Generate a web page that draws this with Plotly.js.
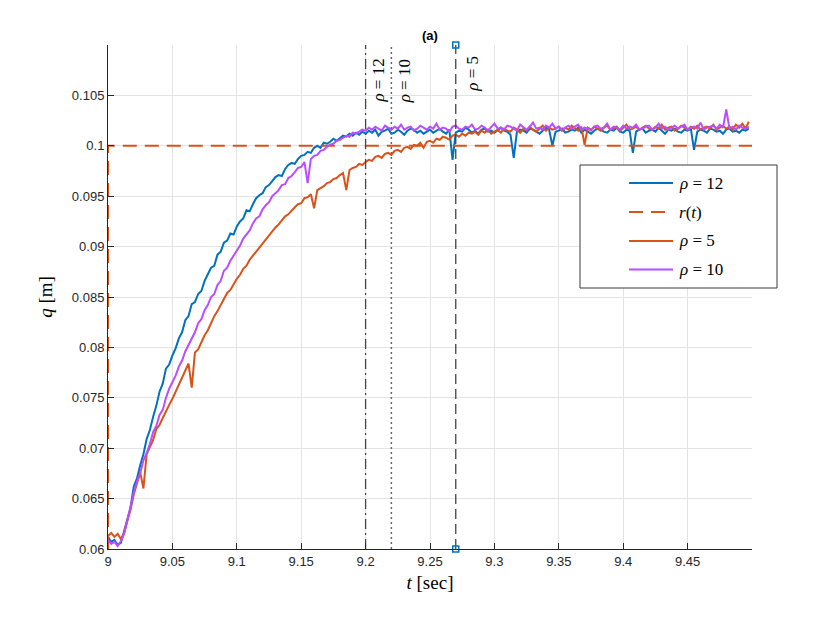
<!DOCTYPE html>
<html>
<head>
<meta charset="utf-8">
<script src="https://cdn.plot.ly/plotly-3.0.1.min.js"></script>
<style>html,body{margin:0;padding:0;background:#fff;}#chart{width:830px;height:623px;}</style>
</head>
<body>
<div id="chart"></div>
<script>
// sampling of the measured responses
const t0 = 9.0;
const dt = 0.0025;

// q [mm] for rho = 12
const qRho12mm = [
61.2,60.7,60.9,60.4,60.6,61.7,62.9,64.1,66.2,67.0,
68.3,69.4,70.9,71.8,73.1,74.2,75.6,76.4,77.9,78.3,
79.2,79.9,80.9,81.5,82.7,83.1,84.3,84.5,85.3,85.6,
86.6,87.2,87.9,88.1,89.2,89.5,90.4,90.6,91.3,91.2,
92.0,92.5,92.8,93.6,93.5,94.2,94.8,95.1,95.3,95.9,
96.1,96.5,96.9,97.1,97.0,97.7,98.1,98.3,98.2,98.7,
99.0,99.1,99.4,99.3,99.8,100.0,99.8,100.3,100.2,100.4,
100.7,100.5,100.8,101.0,100.9,101.2,101.0,101.3,101.1,101.4,
101.2,101.5,101.3,101.6,101.0,101.4,101.5,101.7,101.2,101.3,
101.6,101.4,101.1,101.5,101.7,101.6,101.3,101.5,101.2,101.4,
101.6,101.3,101.5,101.7,101.4,101.2,101.6,98.6,101.3,101.5,
101.4,101.8,101.6,101.3,101.5,101.2,101.6,101.7,101.4,101.5,
101.3,101.6,101.8,101.5,101.4,101.1,98.8,101.4,101.6,101.5,
101.3,101.7,101.6,101.4,101.2,101.5,101.8,101.6,100.0,101.4,
101.5,101.7,101.3,101.4,101.6,101.5,101.8,101.3,101.6,101.4,
101.2,101.5,101.7,101.6,101.4,101.3,101.6,101.5,101.8,101.4,
101.3,101.6,101.5,99.3,101.4,101.6,101.7,101.3,101.5,101.6,
101.4,101.8,101.5,101.2,101.6,101.5,101.7,101.4,101.3,101.6,
101.5,101.7,99.6,101.4,101.6,101.5,101.3,101.7,101.6,101.4,
101.5,101.2,101.6,101.7,101.4,101.5,101.3,101.6,101.5,101.7
];

// q [mm] for rho = 5
const qRho5mm = [
61.3,61.6,61.2,61.5,61.0,61.6,62.8,63.9,65.4,66.6,
67.6,66.0,69.4,70.1,70.8,71.9,72.3,73.0,73.7,74.3,
74.9,75.6,76.3,76.9,77.6,78.4,76.0,79.5,79.8,80.6,
81.2,81.7,82.5,83.1,83.6,84.2,84.8,85.4,85.7,86.3,
86.8,87.2,87.8,88.1,88.7,89.1,89.5,89.9,90.4,90.8,
91.1,91.5,91.9,92.2,92.6,93.0,93.2,93.6,93.9,94.2,
94.3,94.8,94.9,95.2,93.8,95.6,95.8,96.0,96.3,96.4,
96.7,96.8,97.1,97.3,95.6,97.6,97.8,97.9,98.2,98.1,
98.4,98.6,98.5,98.9,99.0,98.8,99.2,99.3,99.1,99.5,
99.6,99.4,99.8,99.9,99.7,100.1,100.0,100.3,99.8,100.4,
100.5,100.3,100.7,100.6,100.9,100.8,100.6,101.0,101.1,100.9,
101.2,101.0,101.3,101.2,101.4,101.1,101.5,101.3,101.6,101.2,
101.4,101.6,101.3,101.7,101.5,101.4,101.8,101.6,101.3,101.7,
101.5,101.9,101.6,101.4,101.7,102.0,101.5,101.8,101.6,101.7,
101.9,101.5,101.8,101.6,102.0,101.7,101.5,101.9,100.1,101.8,
101.6,101.9,101.7,101.5,101.8,102.0,101.6,101.7,101.9,101.5,
101.8,102.1,101.6,101.7,101.9,101.6,101.8,102.0,101.7,101.6,
101.9,101.7,102.1,101.6,101.8,101.9,101.5,101.7,102.0,101.8,
101.6,101.9,101.7,102.0,101.6,101.8,101.9,101.7,102.1,101.6,
101.8,102.0,101.7,101.9,101.6,102.1,101.8,102.2,101.7,102.4
];

// q [mm] for rho = 10
const qRho10mm = [
60.9,60.5,60.7,60.3,60.8,61.5,62.8,64.3,65.6,66.7,
67.5,68.8,69.5,70.4,71.6,72.2,73.3,73.8,75.0,75.9,
76.5,77.2,78.1,78.7,79.6,80.2,80.9,81.5,82.4,82.8,
83.7,84.2,85.0,85.3,86.2,86.6,87.6,87.9,88.6,89.1,
89.7,90.1,90.8,91.2,91.6,92.3,92.8,93.0,93.7,94.1,
94.4,95.0,95.3,95.6,96.1,96.2,96.8,97.0,97.4,97.8,
97.9,98.4,96.3,98.7,99.0,99.1,99.5,99.6,99.9,100.1,
100.2,100.5,100.6,100.8,101.0,100.9,101.3,101.2,101.4,101.6,
101.5,101.8,101.6,101.9,101.7,101.5,102.0,101.8,101.6,101.9,
101.7,102.1,101.6,101.8,101.9,101.5,101.7,102.0,101.8,101.6,
101.9,101.7,102.2,101.6,101.8,101.7,101.4,101.9,102.0,101.7,
101.6,101.9,101.8,102.1,101.6,101.7,102.0,101.8,101.5,101.9,
102.2,101.7,101.8,101.6,102.0,101.9,101.7,101.5,102.1,101.8,
101.6,101.9,102.3,101.7,101.8,101.6,102.0,101.8,102.2,101.7,
101.9,101.6,101.8,102.0,101.7,101.9,102.1,101.6,101.8,101.7,
101.5,101.9,102.0,101.7,101.8,102.2,101.6,101.9,101.8,101.6,
102.0,101.7,101.9,101.8,102.1,101.6,101.7,101.9,102.0,101.6,
101.8,102.2,101.7,101.9,101.6,101.8,102.0,101.7,101.9,102.1,
101.6,101.8,101.9,101.7,102.3,101.6,101.8,101.9,102.0,101.7,
102.1,101.8,103.6,101.7,101.9,101.6,102.0,101.8,101.7,101.9
];

// reference r(t) step
const refT = [9.0, 9.0, 9.5];
const refQ = [0.06, 0.10, 0.10];

// settling-time markers
const settleTimes = [9.20, 9.22, 9.27];
const settleLabels = ['ρ = 12', 'ρ = 10', 'ρ = 5'];
const markerYRange = [0.06, 0.11];

// axis ticks
const xTickVals = [9, 9.05, 9.1, 9.15, 9.2, 9.25, 9.3, 9.35, 9.4, 9.45];
const yTickVals = [0.06, 0.065, 0.07, 0.075, 0.08, 0.085, 0.09, 0.095, 0.1, 0.105];

const timeOf = (arr) => arr.map((_, i) => +(t0 + i * dt).toFixed(4));
const toM = (arr) => arr.map(v => v / 1000);

const BLUE = '#0072BD', ORANGE = '#D95319', PURPLE = '#B94DFF';
const SERIF = '"Liberation Serif", "Times New Roman", "DejaVu Serif", serif';
const SANS = '"Liberation Sans", Arial, sans-serif';

const traces = [
  {x: timeOf(qRho12mm), y: toM(qRho12mm), mode: 'lines', line: {color: BLUE, width: 2}, name: 'ρ = 12', showlegend: false},
  {x: refT, y: refQ, mode: 'lines', line: {color: ORANGE, width: 2, dash: '14px,8px'}, name: 'r(t)', showlegend: false},
  {x: timeOf(qRho5mm), y: toM(qRho5mm), mode: 'lines', line: {color: ORANGE, width: 2}, name: 'ρ = 5', showlegend: false},
  {x: timeOf(qRho10mm), y: toM(qRho10mm), mode: 'lines', line: {color: PURPLE, width: 2}, name: 'ρ = 10', showlegend: false},
  {x: [settleTimes[0], settleTimes[0]], y: markerYRange, mode: 'lines', line: {color: '#444', width: 1.3, dash: '10px,4px,2px,4px'}, showlegend: false, hoverinfo: 'skip'},
  {x: [settleTimes[1], settleTimes[1]], y: markerYRange, mode: 'lines', line: {color: '#666', width: 1.5, dash: '2px,3px'}, showlegend: false, hoverinfo: 'skip'},
  {x: [settleTimes[2], settleTimes[2]], y: markerYRange, mode: 'lines+markers', cliponaxis: false,
   line: {color: '#444', width: 1.3, dash: '10px,5px'},
   marker: {symbol: 'square-open', size: 6, color: BLUE, line: {width: 1.5, color: BLUE}}, showlegend: false, hoverinfo: 'skip'}
];

// plot-area helpers for legend placement (paper coords)
const L = 108, R = 752, T = 45, B = 549;
const px = (p) => (p - L) / (R - L);
const py = (p) => (B - p) / (B - T);

const legendRows = [
  {y: 183, color: BLUE, dash: 'solid', text: '<i>ρ</i> = 12'},
  {y: 212, color: ORANGE, dash: '14px,8px', text: '<i>r</i>(<i>t</i>)'},
  {y: 241, color: ORANGE, dash: 'solid', text: '<i>ρ</i> = 5'},
  {y: 269.5, color: PURPLE, dash: 'solid', text: '<i>ρ</i> = 10'}
];

const shapes = [
  {type: 'rect', xref: 'paper', yref: 'paper', x0: px(580), x1: px(777), y0: py(288), y1: py(165),
   line: {color: '#3a3a3a', width: 1}, fillcolor: '#ffffff', layer: 'above'}
];
const annotations = [
  {text: '<b>(a)</b>', xref: 'paper', yref: 'paper', x: px(430), y: py(35), showarrow: false,
   font: {family: SANS, size: 13, color: '#000'}, xanchor: 'center', yanchor: 'middle'}
];
legendRows.forEach(r => {
  shapes.push({type: 'line', xref: 'paper', yref: 'paper', x0: px(629), x1: px(673), y0: py(r.y), y1: py(r.y),
    line: {color: r.color, width: 2, dash: r.dash}, layer: 'above'});
  annotations.push({text: r.text, xref: 'paper', yref: 'paper', x: px(677), y: py(r.y), showarrow: false,
    xanchor: 'left', yanchor: 'middle', font: {family: SERIF, size: 17, color: '#000'}});
});
const labelShift = [13, 14, 16];
const labelY = [81, 81, 74];
settleTimes.forEach((tS, i) => {
  const parts = settleLabels[i].split(' ');
  annotations.push({text: '<i>' + parts[0] + '</i> ' + parts.slice(1).join(' '), xref: 'x', yref: 'paper', x: tS, xshift: labelShift[i],
    y: py(labelY[i]), showarrow: false, textangle: -90, xanchor: 'center', yanchor: 'middle',
    font: {family: SERIF, size: 17, color: '#000'}});
});

const axisCommon = {
  showline: true, linecolor: '#262626', linewidth: 1, mirror: false,
  ticks: 'inside', ticklen: 6, tickcolor: '#262626', tickwidth: 1,
  showgrid: true, gridcolor: '#e3e3e3', gridwidth: 1, zeroline: false,
  tickfont: {family: SANS, size: 13, color: '#262626'}
};

const layout = {
  width: 830, height: 623,
  margin: {l: L, r: 830 - R, t: T, b: 623 - B},
  paper_bgcolor: '#ffffff', plot_bgcolor: '#ffffff',
  showlegend: false,
  xaxis: Object.assign({}, axisCommon, {
    range: [9, 9.5], tickvals: xTickVals, ticktext: xTickVals.map(String),
    title: {text: '<i>t</i> [sec]', font: {family: SERIF, size: 19, color: '#000'}, standoff: 8}
  }),
  yaxis: Object.assign({}, axisCommon, {
    range: [0.06, 0.11], tickvals: yTickVals, ticktext: yTickVals.map(String),
    title: {text: '<i>q</i> [m]', font: {family: SERIF, size: 19, color: '#000'}, standoff: 14}
  }),
  shapes: shapes,
  annotations: annotations
};

Plotly.newPlot('chart', traces, layout, {displayModeBar: false, staticPlot: true});
</script>
</body>
</html>
